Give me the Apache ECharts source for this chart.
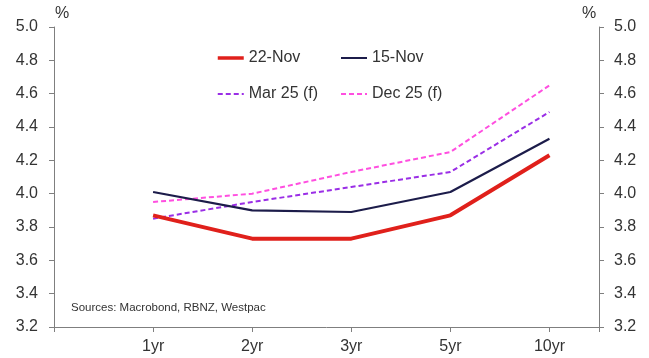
<!DOCTYPE html>
<html>
<head>
<meta charset="utf-8">
<script src="https://cdn.jsdelivr.net/npm/echarts@6/dist/echarts.min.js"></script>
<style>
  html, body { margin: 0; padding: 0; background: #fff; }
  #chart { width: 649px; height: 358px; }
</style>
</head>
<body>
<div id="chart"></div>
<script>
// Tenors along the curve
const tenors = ['1yr', '2yr', '3yr', '5yr', '10yr'];

// Yields, %
const nov22 = [3.87, 3.73, 3.73, 3.87, 4.23];
const nov15 = [4.01, 3.90, 3.89, 4.01, 4.33];
const mar25f = [3.85, 3.95, 4.04, 4.13, 4.49];
const dec25f = [3.95, 4.00, 4.13, 4.25, 4.65];

// Y tick range
const yMin = 3.2, yMax = 5.0, yStep = 0.2;

const FONT = '"Liberation Sans", Arial, sans-serif';
const AXIS_GREY = '#7f7f7f';
const TEXT = '#333333';

const toPoints = arr => arr.map((v, i) => [i, v]);

const chart = echarts.init(document.getElementById('chart'), null, { renderer: 'canvas' });

const yAxisBase = {
  type: 'value',
  min: yMin,
  max: yMax,
  interval: yStep,
  splitLine: { show: false },
  axisLine: { show: true, onZero: false, lineStyle: { color: AXIS_GREY, width: 1 } },
  axisTick: { show: true, inside: false, length: 5, lineStyle: { color: AXIS_GREY } },
  axisLabel: {
    color: TEXT, fontSize: 16, fontFamily: FONT,
    formatter: v => v.toFixed(1)
  }
};

const lineSeries = (name, data, color, width, type) => ({
  name,
  type: 'line',
  data: toPoints(data),
  xAxisIndex: 0,
  yAxisIndex: 0,
  showSymbol: false,
  symbol: 'none',
  animation: false,
  lineStyle: { color, width, type, dashOffset: 0 },
  itemStyle: { color }
});

const legendBase = {
  orient: 'vertical',
  itemWidth: 26,
  itemHeight: 14,
  itemGap: 20,
  itemStyle: { opacity: 0 },
  textStyle: { color: TEXT, fontSize: 16, fontFamily: FONT },
  padding: 0,
  selectedMode: false
};

chart.setOption({
  backgroundColor: '#ffffff',
  animation: false,
  textStyle: { fontFamily: FONT },
  grid: { left: 54, right: 50, top: 27, bottom: 31, containLabel: false },
  xAxis: {
    type: 'value',
    min: -1,
    max: 4.5,
    interval: 1,
    splitLine: { show: false },
    axisLine: { show: true, onZero: false, lineStyle: { color: AXIS_GREY, width: 1 } },
    axisTick: { show: true, inside: false, length: 5, lineStyle: { color: AXIS_GREY } },
    axisLabel: {
      color: TEXT, fontSize: 16, fontFamily: FONT, margin: 12,
      showMinLabel: true, showMaxLabel: true,
      formatter: v => (Number.isInteger(v) && v >= 0 && v < tenors.length) ? tenors[v] : ''
    }
  },
  yAxis: [
    Object.assign({}, yAxisBase, { position: 'left', axisLabel: Object.assign({}, yAxisBase.axisLabel, { margin: 16 }) }),
    Object.assign({}, yAxisBase, { position: 'right', axisLabel: Object.assign({}, yAxisBase.axisLabel, { margin: 15 }) })
  ],
  legend: [
    Object.assign({}, legendBase, {
      left: 216, top: 50,
      data: [
        { name: '22-Nov', lineStyle: { width: 3.5 } },
        { name: 'Mar 25 (f)' }
      ]
    }),
    Object.assign({}, legendBase, {
      left: 340, top: 50,
      data: [
        { name: '15-Nov', lineStyle: { width: 2 } },
        { name: 'Dec 25 (f)' }
      ]
    })
  ],
  graphic: [
    { type: 'text', left: 55, top: 6, style: { text: '%', fill: TEXT, font: '16px ' + FONT } },
    { type: 'text', left: 582, top: 6, style: { text: '%', fill: TEXT, font: '16px ' + FONT } },
    { type: 'text', left: 71, top: 302, style: { text: 'Sources: Macrobond, RBNZ, Westpac', fill: TEXT, font: '11.5px ' + FONT } }
  ],
  series: [
    lineSeries('Dec 25 (f)', dec25f, '#ff4fe0', 2, [5, 3]),
    lineSeries('Mar 25 (f)', mar25f, '#9a2ee6', 2, [5, 3]),
    lineSeries('15-Nov', nov15, '#1c1c4a', 2.2, 'solid'),
    lineSeries('22-Nov', nov22, '#e0201b', 4, 'solid')
  ]
});
</script>
</body>
</html>
